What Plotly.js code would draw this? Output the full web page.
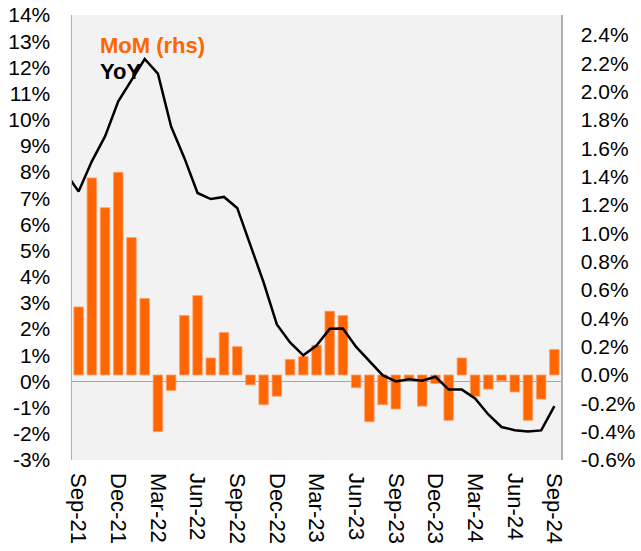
<!DOCTYPE html>
<html>
<head>
<meta charset="utf-8">
<script src="https://cdn.plot.ly/plotly-3.0.1.min.js"></script>
<style>html,body{margin:0;padding:0;background:#fff;}#chart{width:641px;height:551px;}</style>
</head>
<body>
<div id="chart"></div>
<script>
// Months (Aug-21 only used so the YoY line enters from the left edge)
const months = ['Aug-21','Sep-21','Oct-21','Nov-21','Dec-21','Jan-22','Feb-22','Mar-22','Apr-22','May-22','Jun-22','Jul-22','Aug-22','Sep-22','Oct-22','Nov-22','Dec-22','Jan-23','Feb-23','Mar-23','Apr-23','May-23','Jun-23','Jul-23','Aug-23','Sep-23','Oct-23','Nov-23','Dec-23','Jan-24','Feb-24','Mar-24','Apr-24','May-24','Jun-24','Jul-24','Aug-24','Sep-24'];
const barMonths = months.slice(1);
// MoM (%), right axis, Sep-21 .. Sep-24
const mom = [0.48,1.39,1.18,1.43,0.97,0.54,-0.40,-0.11,0.42,0.56,0.12,0.30,0.20,-0.07,-0.21,-0.15,0.11,0.13,0.21,0.45,0.42,-0.09,-0.33,-0.21,-0.24,-0.03,-0.22,-0.06,-0.32,0.12,-0.15,-0.10,-0.04,-0.12,-0.32,-0.17,0.18];
// YoY (%), left axis, Aug-21 .. Sep-24
const yoy = [7.98,7.26,8.41,9.36,10.70,11.53,12.32,11.76,9.74,8.54,7.20,6.97,7.05,6.63,5.23,3.78,2.18,1.49,1.00,1.37,2.01,2.02,1.32,0.78,0.24,0.00,0.08,0.03,0.18,-0.31,-0.31,-0.65,-1.26,-1.74,-1.86,-1.91,-1.87,-0.94];
// Tick labels
const xTicks = ['Sep-21','Dec-21','Mar-22','Jun-22','Sep-22','Dec-22','Mar-23','Jun-23','Sep-23','Dec-23','Mar-24','Jun-24','Sep-24'];
const leftTickVals = [-3,-2,-1,0,1,2,3,4,5,6,7,8,9,10,11,12,13,14];
const leftTickText = ['-3%','-2%','-1%','0%','1%','2%','3%','4%','5%','6%','7%','8%','9%','10%','11%','12%','13%','14%'];
const rightTickVals = [-0.6,-0.4,-0.2,0,0.2,0.4,0.6,0.8,1.0,1.2,1.4,1.6,1.8,2.0,2.2,2.4];
const rightTickText = ['-0.6%','-0.4%','-0.2%','0.0%','0.2%','0.4%','0.6%','0.8%','1.0%','1.2%','1.4%','1.6%','1.8%','2.0%','2.2%','2.4%'];

const font = 'Liberation Sans, Arial, sans-serif';

const traces = [
  {
    type: 'bar', x: barMonths, y: mom, yaxis: 'y', xaxis: 'x',
    marker: {color: '#ff6600', line: {color: '#ffa070', width: 0.8}},
    width: 0.72, hoverinfo: 'skip', showlegend: false
  },
  {
    type: 'scatter', mode: 'lines', x: months, y: yoy, yaxis: 'y2', xaxis: 'x',
    line: {color: '#000000', width: 2.5}, hoverinfo: 'skip', showlegend: false
  }
];

const layout = {
  width: 641, height: 551,
  margin: {l: 72, r: 80, t: 15, b: 91},
  paper_bgcolor: '#ffffff',
  plot_bgcolor: '#f2f2f2',
  font: {family: font, size: 21, color: '#000'},
  showlegend: false,
  xaxis: {
    type: 'category', categoryorder: 'array', categoryarray: months,
    range: [0.5, 37.5], tickmode: 'array', tickvals: xTicks, ticktext: xTicks,
    tickangle: 90, showgrid: false, zeroline: false, showline: false,
    ticks: '', ticklabelstandoff: 12, tickfont: {family: font, size: 22, color: '#000'}
  },
  yaxis: {
    side: 'right', range: [-0.6, 2.54],
    tickmode: 'array', tickvals: rightTickVals, ticktext: rightTickText,
    showgrid: false, zeroline: false, showline: true, linecolor: '#b0b0b0', linewidth: 1.5,
    ticks: '', ticklabelstandoff: 14, tickfont: {family: font, size: 21, color: '#000'}
  },
  yaxis2: {
    overlaying: 'y', side: 'left', range: [-3, 14],
    tickmode: 'array', tickvals: leftTickVals, ticktext: leftTickText,
    showgrid: false, zeroline: true, zerolinecolor: '#a6a6a6', zerolinewidth: 1,
    showline: true, linecolor: '#b0b0b0', linewidth: 1.5,
    ticks: '', ticklabelstandoff: 16, tickfont: {family: font, size: 21, color: '#000'}
  },
  annotations: [
    {xref: 'paper', yref: 'paper', x: 0.053, y: 0.932, xanchor: 'left', yanchor: 'middle',
     text: '<b>MoM (rhs)</b>', showarrow: false, font: {family: font, size: 22, color: '#ff6600'}},
    {xref: 'paper', yref: 'paper', x: 0.053, y: 0.872, xanchor: 'left', yanchor: 'middle',
     text: '<b>YoY</b>', showarrow: false, font: {family: font, size: 22, color: '#000'}}
  ]
};

Plotly.newPlot('chart', traces, layout, {displayModeBar: false, staticPlot: true});
</script>
</body>
</html>
